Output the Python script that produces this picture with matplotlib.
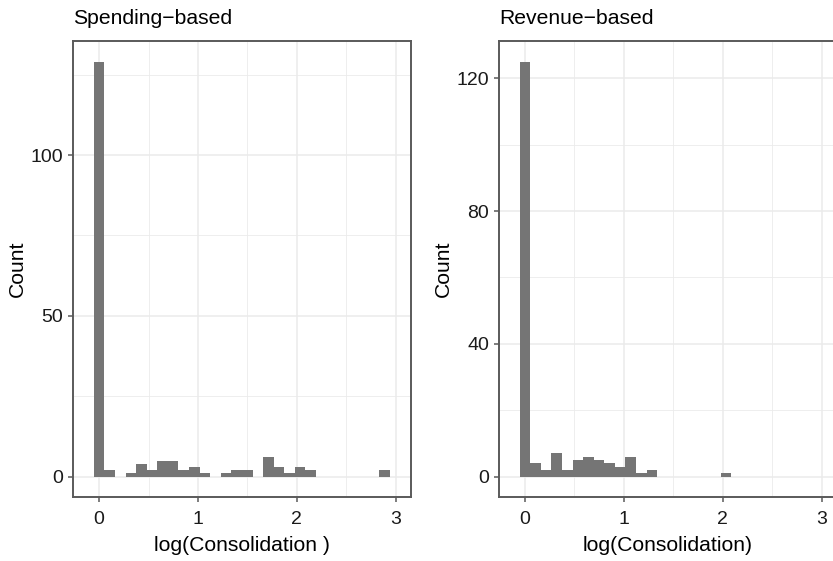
import numpy as np
import matplotlib
matplotlib.use("Agg")
import matplotlib.pyplot as plt
from matplotlib.ticker import MultipleLocator

plt.rcParams['font.family'] = ['Liberation Sans', 'DejaVu Sans']

# histogram data (bins of equal width, first bin centred on 0)
binwidth = 0.107
spending_counts = [129, 2, 0, 1, 4, 2, 5, 5, 2, 3, 1, 0, 1, 2, 2, 0, 6, 3, 1, 3, 2,
                   0, 0, 0, 0, 0, 0, 2]
revenue_counts = [125, 4, 2, 7, 2, 5, 6, 5, 4, 3, 6, 1, 2, 0, 0, 0, 0, 0, 0, 1]

titles = ["Spending\u2212based", "Revenue\u2212based"]
xlabels = ["log(Consolidation )", "log(Consolidation)"]
y_major = [[0, 50, 100], [0, 40, 80, 120]]
y_minor_step = [25, 20]
x_ticks = [0, 1, 2, 3]

bar_col = '#757575'
frame_col = '#5a5a5a'
grid_col = '#ebebeb'

fig = plt.figure(figsize=(8.33, 5.61), dpi=100)
ax1 = fig.add_axes([0.0882, 0.1135, 0.4052, 0.8134])
ax2 = fig.add_axes([0.5994, 0.1135, 0.4052, 0.8134])

for i, (ax, counts) in enumerate(zip([ax1, ax2], [spending_counts, revenue_counts])):
    centers = np.arange(len(counts)) * binwidth
    ax.bar(centers, counts, width=binwidth, color=bar_col, linewidth=0, zorder=3)
    top = max(counts)
    ax.set_ylim(-0.05 * top, 1.05 * top)
    ax.set_xlim(-0.26, 3.155)
    ax.set_xticks(x_ticks)
    ax.set_yticks(y_major[i])
    ax.xaxis.set_minor_locator(MultipleLocator(0.5))
    ax.yaxis.set_minor_locator(MultipleLocator(y_minor_step[i]))
    ax.grid(which='major', color=grid_col, linewidth=1.1, zorder=0)
    ax.grid(which='minor', color=grid_col, linewidth=0.6, zorder=0)
    ax.set_axisbelow(True)
    for s in ax.spines.values():
        s.set_color(frame_col)
        s.set_linewidth(1.4)
    ax.tick_params(which='major', length=3.5, width=1.1, color=frame_col,
                   labelsize=14, labelcolor='#1a1a1a')
    ax.tick_params(axis='x', pad=6)
    ax.tick_params(axis='y', pad=4)
    ax.tick_params(which='minor', length=0)
    ax.set_title(titles[i], loc='left', fontsize=15.2, pad=12)
    ax.set_xlabel(xlabels[i], fontsize=15.2, labelpad=6)
    ax.set_ylabel("Count", fontsize=15.2, labelpad=2.5)

fig.savefig("out.png", dpi=100)
